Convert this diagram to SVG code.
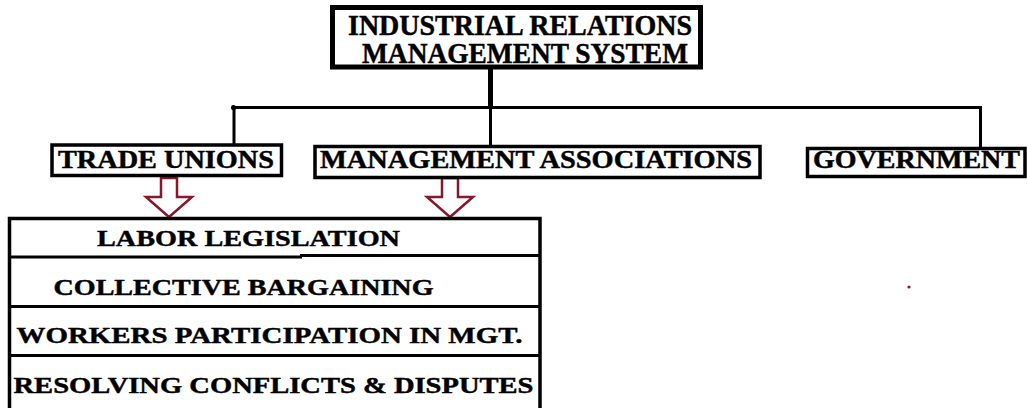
<svg xmlns="http://www.w3.org/2000/svg" width="1027" height="408" viewBox="0 0 1027 408">
  <style>
    .box { fill: #ffffff; stroke: #000000; stroke-width: 3.5; }
    .title { fill: #ffffff; stroke: #000000; stroke-width: 5; }
    .lbl { font-family: "Liberation Serif", "Times New Roman", serif; font-weight: bold; fill: #000000; stroke: #000000; stroke-width: 0.45; }
    .big { font-size: 28.5px; }
    .mid { font-size: 25px; }
    .row { font-size: 24px; }
    .wire { stroke: #000000; stroke-width: 3; fill: none; }
    .arrow { fill: #ffffff; stroke: #85182f; stroke-width: 2.5; stroke-linejoin: miter; }
  </style>

  <rect width="1027" height="408" fill="#ffffff"/>

  <!-- connectors -->
  <g id="connectors">
    <line x1="490.5" y1="68" x2="490.5" y2="109" stroke="#000" stroke-width="5"/>
    <line class="wire" x1="233" y1="107.5" x2="982" y2="107.5"/>
    <circle cx="233.5" cy="107.5" r="2.6" fill="#000"/>
    <line class="wire" x1="234" y1="107" x2="234" y2="145"/>
    <line class="wire" x1="490.5" y1="107" x2="490.5" y2="147"/>
    <line class="wire" x1="980.5" y1="106" x2="980.5" y2="149"/>
    <path id="arrow-unions" class="arrow" d="M161,178 L177,178 L177,197 L192,197 L169,217 L146,197 L161,197 Z"/>
    <path id="arrow-mgmt" class="arrow" d="M442,178 L458,178 L458,197 L473,197 L450,217 L427,197 L442,197 Z"/>
  </g>

  <!-- root -->
  <g id="node-irms">
    <rect class="title" x="332.5" y="7.5" width="368" height="59.5"/>
    <text class="lbl big" x="348" y="35" textLength="344" lengthAdjust="spacingAndGlyphs">INDUSTRIAL RELATIONS</text>
    <text class="lbl big" x="362" y="63" textLength="326" lengthAdjust="spacingAndGlyphs">MANAGEMENT SYSTEM</text>
  </g>

  <!-- parties -->
  <g id="node-trade-unions">
    <rect class="box" x="52" y="145" width="229.5" height="30.5"/>
    <text class="lbl mid" x="58" y="168" textLength="216" lengthAdjust="spacingAndGlyphs">TRADE UNIONS</text>
  </g>
  <g id="node-management-associations">
    <rect class="box" x="315" y="146.5" width="445" height="31"/>
    <text class="lbl mid" x="320" y="168" textLength="432" lengthAdjust="spacingAndGlyphs">MANAGEMENT ASSOCIATIONS</text>
  </g>
  <g id="node-government">
    <rect class="box" x="807.5" y="148.5" width="217.5" height="28"/>
    <text class="lbl mid" x="813" y="168" textLength="207" lengthAdjust="spacingAndGlyphs">GOVERNMENT</text>
  </g>

  <!-- functions table -->
  <g id="node-functions">
    <rect class="box" x="9.5" y="218.5" width="530.5" height="200"/>
    <line class="wire" x1="9.5" y1="257" x2="302" y2="257" stroke-width="3.5"/>
    <line class="wire" x1="300" y1="255.5" x2="540" y2="255.5" stroke-width="3.5"/>
    <line class="wire" x1="9.5" y1="306.5" x2="540" y2="306.5" stroke-width="3.5"/>
    <line class="wire" x1="9.5" y1="355.5" x2="540" y2="355.5" stroke-width="3.5"/>
    <text class="lbl row" x="97" y="245.5" textLength="303" lengthAdjust="spacingAndGlyphs">LABOR LEGISLATION</text>
    <text class="lbl row" x="53.5" y="295" textLength="380" lengthAdjust="spacingAndGlyphs">COLLECTIVE BARGAINING</text>
    <text class="lbl row" x="16.5" y="343" textLength="506" lengthAdjust="spacingAndGlyphs">WORKERS PARTICIPATION IN MGT.</text>
    <text class="lbl row" x="13.5" y="392.5" textLength="520" lengthAdjust="spacingAndGlyphs">RESOLVING CONFLICTS &amp; DISPUTES</text>
  </g>

  <!-- stray mark -->
  <circle cx="909" cy="287" r="1.6" fill="#85182f"/>
</svg>
